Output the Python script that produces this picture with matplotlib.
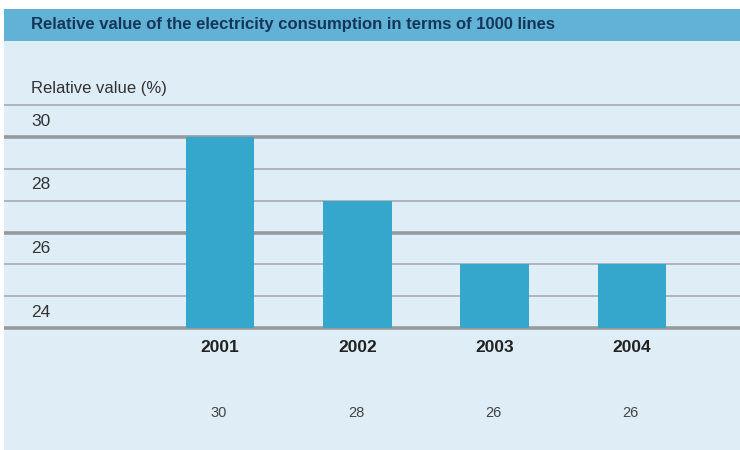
#!/usr/bin/env python3

import matplotlib
matplotlib.use("Agg")
import matplotlib.pyplot as plt
from matplotlib.patches import Rectangle
from matplotlib import font_manager

years = ["2001", "2002", "2003", "2004"]
values = [30, 28, 26, 26]
tick_values = [24, 26, 28, 30]
thin_lines = [25, 26, 28, 29, 31]
thick_lines = [24, 27, 30]
title = "Relative value of the electricity consumption in terms of 1000 lines"
ylabel = "Relative value (%)"

PANEL = "#deedf6"
HEADER = "#62b2d6"
BAR = "#35a7cd"
NAVY = "#14365a"

names = {f.name for f in font_manager.fontManager.ttflist}
narrow = "Liberation Sans Narrow" if "Liberation Sans Narrow" in names else "Liberation Sans"
plt.rcParams["font.family"] = [narrow, "DejaVu Sans"]

W, H = 740, 450
fig = plt.figure(figsize=(W / 100, H / 100), dpi=100)
fig.patch.set_facecolor("white")

# pixel coords -> figure fraction
def fx(px):
    return px / W

def fy(py):
    return 1 - py / H

# light panel and the header band, behind the axes
fig.patches.append(Rectangle((fx(4), 0), fx(740) - fx(4), fy(9), transform=fig.transFigure,
                             facecolor=PANEL, edgecolor="none", zorder=-10))
fig.patches.append(Rectangle((fx(4), fy(41)), fx(740) - fx(4), fy(9) - fy(41),
                             transform=fig.transFigure, facecolor=HEADER, edgecolor="none",
                             zorder=-9))
fig.text(fx(31), fy(25), title, fontsize=12, fontweight="bold", color=NAVY,
         ha="left", va="center")

# plot area below the header
ax = fig.add_axes([fx(4), 0, fx(740) - fx(4), fy(41)])
ax.set_zorder(1)
ax.patch.set_visible(False)
px_per_unit = (328 - 137) / 6.0
ax.set_ylim(24 - (450 - 328) / px_per_unit, 30 + (137 - 41) / px_per_unit)
step = 137.33
ax.set_xlim((4 - 220) / step, (740 - 220) / step)
for s in ax.spines.values():
    s.set_visible(False)
ax.set_xticks([])
ax.set_yticks([])

for v in thin_lines:
    ax.axhline(v, color="#aab0b6", lw=1.3, zorder=1)
for v in thick_lines:
    ax.axhline(v, color="#979ba0", lw=2.6, zorder=1)

x = list(range(len(years)))
ax.bar(x, [v - 24 for v in values], bottom=24, width=0.50, color=BAR, zorder=2)

trans = ax.get_yaxis_transform()
xl = (31 - 4) / (740 - 4)
for t in tick_values:
    ax.text(xl, t + 0.50, str(t), transform=trans, fontsize=12.5, color="#333333",
            ha="left", va="center")
ax.text(xl, 31.52, ylabel, transform=trans, fontsize=12, color="#333333",
        ha="left", va="center")

for xi, yr, v in zip(x, years, values):
    ax.text(xi, 24 - 20 / px_per_unit, yr, fontsize=12.5, fontweight="bold",
            color="#222222", ha="center", va="center")
    ax.text(xi - 0.01, 24 - 85 / px_per_unit, str(v), fontsize=10.5, color="#444444",
            ha="center", va="center")

fig.savefig("out.png", dpi=100)
